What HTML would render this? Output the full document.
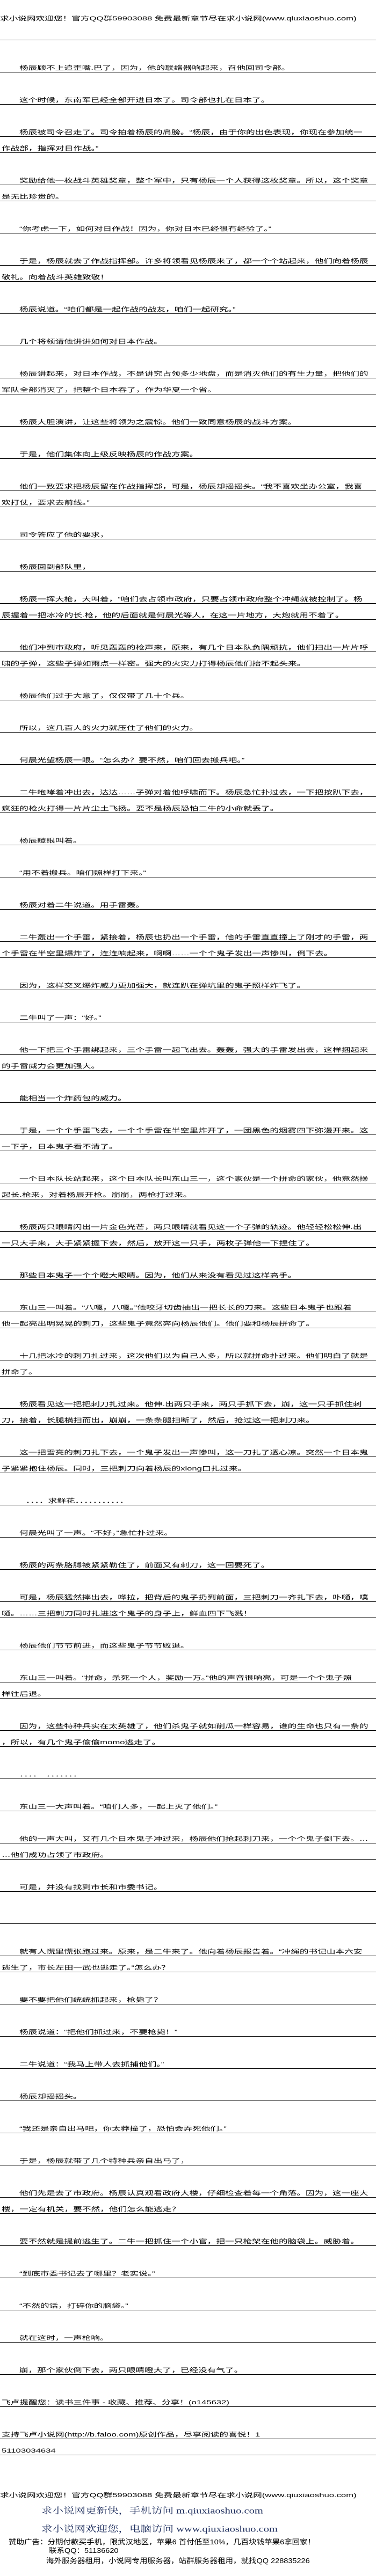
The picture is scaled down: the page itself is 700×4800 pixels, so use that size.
<!DOCTYPE html>
<html><head><meta charset="utf-8">
<style>
html,body{margin:0;padding:0;background:#fff;}
body{width:700px;height:4800px;position:relative;overflow:hidden;font-family:"Liberation Sans","Noto Sans CJK SC",sans-serif;color:#000;}
.r{position:absolute;left:0;width:700px;height:30px;border-bottom:1px solid #000;box-sizing:border-box;}
.r span,.t{position:absolute;bottom:1px;left:3px;font-size:16.67px;line-height:1;white-space:nowrap;transform:scaleY(0.66);transform-origin:left bottom;}
.r span.i{left:36px;}
.t{bottom:auto;}
.b{position:absolute;white-space:nowrap;font-family:"Liberation Serif","Noto Serif CJK SC",serif;color:#1c2c5c;font-size:20.5px;line-height:1;transform:scaleY(0.78);transform-origin:left top;}
.s{position:absolute;white-space:nowrap;font-size:14.5px;line-height:1;transform:scaleY(0.9);transform-origin:left top;}
</style></head><body>
<div class="t" style="left:0;top:24px;">求小说网欢迎您！官方QQ群59903088 免费最新章节尽在求小说网(www.qiuxiaoshuo.com)</div>

<div class="r" style="top:45px"></div>
<div class="r" style="top:105px"><span class="i">杨辰顾不上追歪嘴.巴了，因为，他的联络器响起来，召他回司令部。</span></div>
<div class="r" style="top:165px"><span class="i">这个时候，东南军已经全部开进日本了。司令部也扎在日本了。</span></div>
<div class="r" style="top:225px"><span class="i">杨辰被司令召走了。司令拍着杨辰的肩膀。“杨辰，由于你的出色表现，你现在参加统一</span></div>
<div class="r" style="top:255px"><span>作战部，指挥对日作战。”</span></div>
<div class="r" style="top:315px"><span class="i">奖励给他一枚战斗英雄奖章，整个军中，只有杨辰一个人获得这枚奖章。所以，这个奖章</span></div>
<div class="r" style="top:345px"><span>是无比珍贵的。</span></div>
<div class="r" style="top:405px"><span class="i">“你考虑一下，如何对日作战！因为，你对日本已经很有经验了。”</span></div>
<div class="r" style="top:465px"><span class="i">于是，杨辰就去了作战指挥部。许多将领看见杨辰来了，都一个个站起来，他们向着杨辰</span></div>
<div class="r" style="top:495px"><span>敬礼。向着战斗英雄致敬！</span></div>
<div class="r" style="top:555px"><span class="i">杨辰说道。“咱们都是一起作战的战友，咱们一起研究。”</span></div>
<div class="r" style="top:615px"><span class="i">几个将领请他讲讲如何对日本作战。</span></div>
<div class="r" style="top:675px"><span class="i">杨辰讲起来，对日本作战，不是讲究占领多少地盘，而是消灭他们的有生力量，把他们的</span></div>
<div class="r" style="top:705px"><span>军队全部消灭了，把整个日本吞了，作为华夏一个省。</span></div>
<div class="r" style="top:765px"><span class="i">杨辰大胆演讲，让这些将领为之震惊。他们一致同意杨辰的战斗方案。</span></div>
<div class="r" style="top:825px"><span class="i">于是，他们集体向上级反映杨辰的作战方案。</span></div>
<div class="r" style="top:885px"><span class="i">他们一致要求把杨辰留在作战指挥部，可是，杨辰却摇摇头。“我不喜欢坐办公室，我喜</span></div>
<div class="r" style="top:915px"><span>欢打仗，要求去前线。”</span></div>
<div class="r" style="top:975px"><span class="i">司令答应了他的要求，</span></div>
<div class="r" style="top:1035px"><span class="i">杨辰回到部队里，</span></div>
<div class="r" style="top:1095px"><span class="i">杨辰一挥大枪，大叫着，“咱们去占领市政府，只要占领市政府整个冲绳就被控制了。杨</span></div>
<div class="r" style="top:1125px"><span>辰握着一把冰冷的长.枪，他的后面就是何晨光等人，在这一片地方，大炮就用不着了。</span></div>
<div class="r" style="top:1185px"><span class="i">他们冲到市政府，听见轰轰的枪声来，原来，有几个日本队负隅顽抗，他们扫出一片片呼</span></div>
<div class="r" style="top:1215px"><span>啸的子弹，这些子弹如雨点一样密。强大的火灾力打得杨辰他们抬不起头来。</span></div>
<div class="r" style="top:1275px"><span class="i">杨辰他们过于大意了，仅仅带了几十个兵。</span></div>
<div class="r" style="top:1335px"><span class="i">所以，这几百人的火力就压住了他们的火力。</span></div>
<div class="r" style="top:1395px"><span class="i">何晨光望杨辰一眼。“怎么办？要不然，咱们回去搬兵吧。”</span></div>
<div class="r" style="top:1455px"><span class="i">二牛咆哮着冲出去，达达……子弹对着他呼啸而下。杨辰急忙扑过去，一下把按趴下去，</span></div>
<div class="r" style="top:1485px"><span>疯狂的枪火打得一片片尘土飞扬。要不是杨辰恐怕二牛的小命就丢了。</span></div>
<div class="r" style="top:1545px"><span class="i">杨辰瞪眼叫着。</span></div>
<div class="r" style="top:1605px"><span class="i">“用不着搬兵。咱们照样打下来。”</span></div>
<div class="r" style="top:1665px"><span class="i">杨辰对着二牛说道。用手雷轰。</span></div>
<div class="r" style="top:1725px"><span class="i">二牛轰出一个手雷，紧接着，杨辰也扔出一个手雷，他的手雷直直撞上了刚才的手雷，两</span></div>
<div class="r" style="top:1755px"><span>个手雷在半空里爆炸了，连连响起来，啊啊……一个个鬼子发出一声惨叫，倒下去。</span></div>
<div class="r" style="top:1815px"><span class="i">因为，这样交叉爆炸威力更加强大，就连趴在弹坑里的鬼子照样炸飞了。</span></div>
<div class="r" style="top:1875px"><span class="i">二牛叫了一声：“好。”</span></div>
<div class="r" style="top:1935px"><span class="i">他一下把三个手雷绑起来，三个手雷一起飞出去。轰轰，强大的手雷发出去，这样捆起来</span></div>
<div class="r" style="top:1965px"><span>的手雷威力会更加强大。</span></div>
<div class="r" style="top:2025px"><span class="i">能相当一个炸药包的威力。</span></div>
<div class="r" style="top:2085px"><span class="i">于是，一个个手雷飞去，一个个手雷在半空里炸开了，一团黑色的烟雾四下弥漫开来。这</span></div>
<div class="r" style="top:2115px"><span>一下子，日本鬼子看不清了。</span></div>
<div class="r" style="top:2175px"><span class="i">一个日本队长站起来，这个日本队长叫东山三一，这个家伙是一个拼命的家伙，他竟然操</span></div>
<div class="r" style="top:2205px"><span>起长.枪来，对着杨辰开枪。崩崩，两枪打过来。</span></div>
<div class="r" style="top:2265px"><span class="i">杨辰两只眼睛闪出一片金色光芒，两只眼睛就看见这一个子弹的轨迹。他轻轻松松伸.出</span></div>
<div class="r" style="top:2295px"><span>一只大手来，大手紧紧握下去，然后，放开这一只手，两枚子弹他一下捏住了。</span></div>
<div class="r" style="top:2355px"><span class="i">那些日本鬼子一个个瞪大眼睛。因为，他们从来没有看见过这样高手。</span></div>
<div class="r" style="top:2415px"><span class="i">东山三一叫着。“八嘎，八嘎。”他咬牙切齿抽出一把长长的刀来。这些日本鬼子也跟着</span></div>
<div class="r" style="top:2445px"><span>他一起亮出明晃晃的刺刀，这些鬼子竟然奔向杨辰他们。他们要和杨辰拼命了。</span></div>
<div class="r" style="top:2505px"><span class="i">十几把冰冷的刺刀扎过来，这次他们以为自己人多，所以就拼命扑过来。他们明白了就是</span></div>
<div class="r" style="top:2535px"><span>拼命了。</span></div>
<div class="r" style="top:2595px"><span class="i">杨辰看见这一把把刺刀扎过来。他伸.出两只手来，两只手抓下去，崩，这一只手抓住刺</span></div>
<div class="r" style="top:2625px"><span>刀，接着，长腿横扫而出，崩崩，一条条腿扫断了，然后，抢过这一把刺刀来。</span></div>
<div class="r" style="top:2685px"><span class="i">这一把雪亮的刺刀扎下去，一个鬼子发出一声惨叫，这一刀扎了透心凉。突然一个日本鬼</span></div>
<div class="r" style="top:2715px"><span>子紧紧抱住杨辰。同时，三把刺刀向着杨辰的xiong口扎过来。</span></div>
<div class="r" style="top:2775px"><span style="left:48px">．．．．求鲜花．．．．．．．．．．．</span></div>
<div class="r" style="top:2835px"><span class="i">何晨光叫了一声。“不好，”急忙扑过来。</span></div>
<div class="r" style="top:2895px"><span class="i">杨辰的两条胳膊被紧紧勒住了，前面又有刺刀，这一回要死了。</span></div>
<div class="r" style="top:2955px"><span class="i">可是，杨辰猛然摔出去，哗拉，把背后的鬼子扔到前面，三把刺刀一齐扎下去，卟嗵，噗</span></div>
<div class="r" style="top:2985px"><span>嗵。……三把刺刀同时扎进这个鬼子的身子上，鲜血四下飞溅！</span></div>
<div class="r" style="top:3045px"><span class="i">杨辰他们节节前进，而这些鬼子节节败退。</span></div>
<div class="r" style="top:3105px"><span class="i">东山三一叫着。“拼命，杀死一个人，奖励一万。”他的声音很响亮，可是一个个鬼子照</span></div>
<div class="r" style="top:3135px"><span>样往后退。</span></div>
<div class="r" style="top:3195px"><span class="i">因为，这些特种兵实在太英雄了，他们杀鬼子就如削瓜一样容易，谁的生命也只有一条的</span></div>
<div class="r" style="top:3225px"><span>，所以，有几个鬼子偷偷momo逃走了。</span></div>
<div class="r" style="top:3285px"><span class="i">．．．．　．．．．．．．</span></div>
<div class="r" style="top:3345px"><span class="i">东山三一大声叫着。“咱们人多，一起上灭了他们。”</span></div>
<div class="r" style="top:3405px"><span class="i">他的一声大叫，又有几个日本鬼子冲过来，杨辰他们抢起刺刀来，一个个鬼子倒下去。…</span></div>
<div class="r" style="top:3435px"><span>…他们成功占领了市政府。</span></div>
<div class="r" style="top:3495px"><span class="i">可是，并没有找到市长和市委书记。</span></div>
<div class="r" style="top:3555px"></div>
<div class="r" style="top:3615px"><span class="i">就有人慌里慌张跑过来。原来，是二牛来了。他向着杨辰报告着。“冲绳的书记山本六安</span></div>
<div class="r" style="top:3645px"><span>逃生了，市长左田一武也逃走了。”怎么办？</span></div>
<div class="r" style="top:3705px"><span class="i">要不要把他们统统抓起来，枪毙了？</span></div>
<div class="r" style="top:3765px"><span class="i">杨辰说道：“把他们抓过来，不要枪毙！”</span></div>
<div class="r" style="top:3825px"><span class="i">二牛说道：“我马上带人去抓捕他们。”</span></div>
<div class="r" style="top:3885px"><span class="i">杨辰却摇摇头。</span></div>
<div class="r" style="top:3945px"><span class="i">“我还是亲自出马吧，你太莽撞了，恐怕会弄死他们。”</span></div>
<div class="r" style="top:4005px"><span class="i">于是，杨辰就带了几个特种兵亲自出马了，</span></div>
<div class="r" style="top:4065px"><span class="i">他们先是去了市政府。杨辰认真观看政府大楼，仔细检查着每一个角落。因为，这一座大</span></div>
<div class="r" style="top:4095px"><span>楼，一定有机关，要不然，他们怎么能逃走？</span></div>
<div class="r" style="top:4155px"><span class="i">要不然就是提前逃生了。二牛一把抓住一个小官，把一只枪架在他的脑袋上。威胁着。</span></div>
<div class="r" style="top:4215px"><span class="i">“到底市委书记去了哪里？老实说。”</span></div>
<div class="r" style="top:4275px"><span class="i">“不然的话，打碎你的脑袋。”</span></div>
<div class="r" style="top:4335px"><span class="i">就在这时，一声枪响。</span></div>
<div class="r" style="top:4395px"><span class="i">崩，那个家伙倒下去，两只眼睛瞪大了，已经没有气了。</span></div>
<div class="r" style="top:4455px"><span>飞卢提醒您：读书三件事 - 收藏、推荐、分享！(o145632)</span></div>
<div class="r" style="top:4515px"><span>支持飞卢小说网(http://b.faloo.com)原创作品，尽享阅读的喜悦！1</span></div>
<div class="r" style="top:4545px"><span>51103034634</span></div>

<div class="t" style="left:0;top:4639px;">求小说网欢迎您！官方QQ群59903088 免费最新章节尽在求小说网(www.qiuxiaoshuo.com)</div>
<div class="b" style="left:77px;top:4671px;">求小说网更新快，手机访问 m.qiuxiaoshuo.com</div>
<div class="b" style="left:77px;top:4705px;">求小说网欢迎您，电脑访问 www.qiuxiaoshuo.com</div>
<div class="s" style="left:16px;top:4731px;">赞助广告：分期付款买手机，限武汉地区，苹果6 首付低至10%，几百块钱苹果6拿回家！</div>
<div class="s" style="left:91px;top:4747px;">联系QQ：51136620</div>
<div class="s" style="left:86px;top:4766px;">海外服务器租用，小说网专用服务器，站群服务器租用，就找QQ 228835226</div>
</body></html>
